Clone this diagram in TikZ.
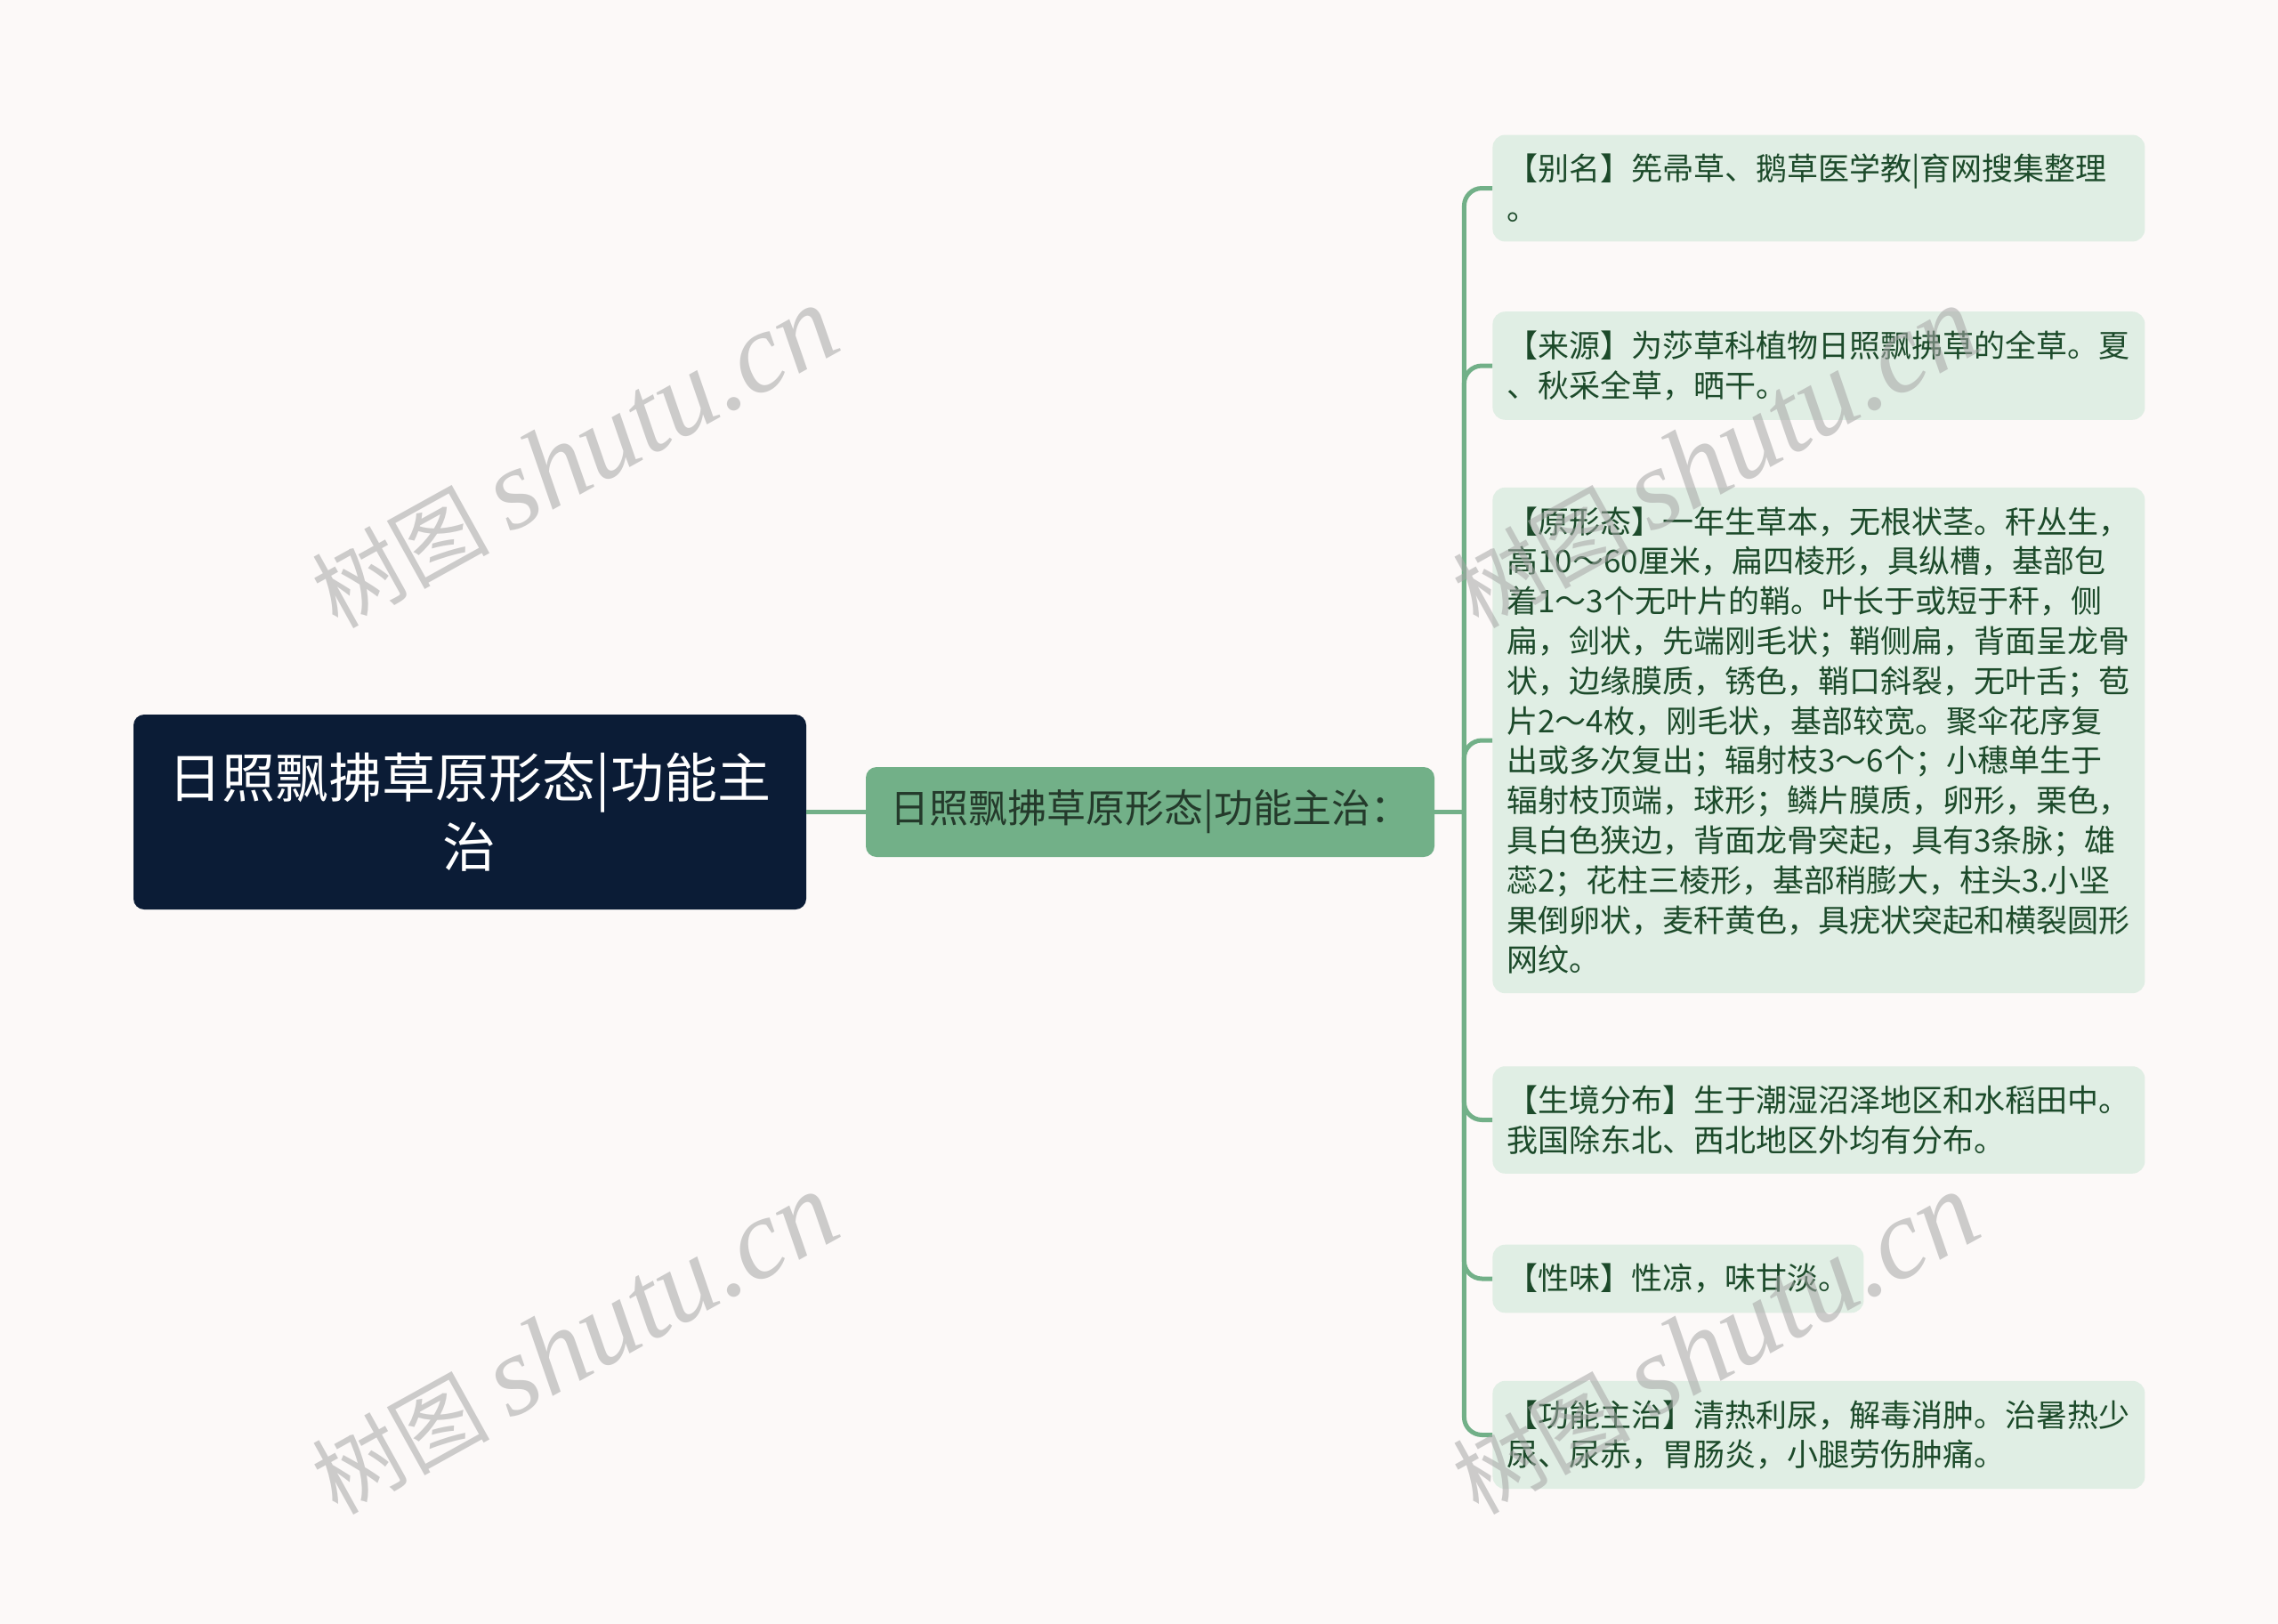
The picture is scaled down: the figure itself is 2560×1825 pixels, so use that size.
\documentclass[tikz,border=0pt]{standalone}
\usepackage{fontspec}
\setmainfont{Noto Sans CJK SC}
\newfontfamily\wmlatin{Liberation Serif}
\usetikzlibrary{positioning}
\definecolor{bgpaper}{HTML}{FCF9F8}
\definecolor{navy}{HTML}{0B1C36}
\definecolor{sage}{HTML}{72B088}
\definecolor{leafbg}{HTML}{E0EEE4}
\definecolor{leafink}{HTML}{1C4A2A}
\definecolor{midink}{HTML}{243A2B}
\begin{document}
\begin{tikzpicture}[x=0.5pt,y=-0.5pt,
      rootbox/.style={fill=navy, text=white, rounded corners=6pt,
        minimum width=378pt, minimum height=109.5pt, align=center,
        font=\fontsize{30}{39}\selectfont},
      midbox/.style={fill=sage, text=midink, rounded corners=6pt,
        minimum width=319.5pt, minimum height=50.5pt,
        font=\fontsize{22}{26}\selectfont},
      leafbox/.style={fill=leafbg, text=leafink, rounded corners=7pt,
        anchor=west, inner xsep=8pt, inner ysep=10.8pt, align=left,
        font=\fontsize{17.5}{22.4}\selectfont},
      wide/.style={text width=350.5pt},
      branch/.style={draw=sage, line width=2.5pt, rounded corners=10pt},
      wmark/.style={text=black!35, text opacity=0.55, rotate=29,
        font=\fontsize{50}{50}\selectfont}]
      \fill[bgpaper] (0,0) rectangle (2560,1825);
      \useasboundingbox (0,0) rectangle (2560,1825);
      % main topic and its sub-topic
      \node[rootbox] (root) at (528,912.5) {日照飘拂草原形态|功能主\\治};
      \node[midbox] (mid) at (1292.5,912.5) {日照飘拂草原形态|功能主治：};
      % leaves
      \node[leafbox, wide] (alias) at (1677,211.5) {【别名】筅帚草、鹅草医学教|育网搜集整理\\
        。};
      \node[leafbox, wide] (source) at (1677,411) {【来源】为莎草科植物日照飘拂草的全草。夏\\
        、秋采全草，晒干。};
      \node[leafbox, wide] (shape) at (1677,832) {【原形态】一年生草本，无根状茎。秆丛生，\\
        高10～60厘米，扁四棱形，具纵槽，基部包\\
        着1～3个无叶片的鞘。叶长于或短于秆，侧\\
        扁，剑状，先端刚毛状；鞘侧扁，背面呈龙骨\\
        状，边缘膜质，锈色，鞘口斜裂，无叶舌；苞\\
        片2～4枚，刚毛状，基部较宽。聚伞花序复\\
        出或多次复出；辐射枝3～6个；小穗单生于\\
        辐射枝顶端，球形；鳞片膜质，卵形，栗色，\\
        具白色狭边，背面龙骨突起，具有3条脉；雄\\
        蕊2；花柱三棱形，基部稍膨大，柱头3.小坚\\
        果倒卵状，麦秆黄色，具疣状突起和横裂圆形\\
        网纹。};
      \node[leafbox, wide] (habitat) at (1677,1258.5) {【生境分布】生于潮湿沼泽地区和水稻田中。\\
        我国除东北、西北地区外均有分布。};
      \node[leafbox] (taste) at (1677,1437) {【性味】性凉，味甘淡。};
      \node[leafbox, wide] (usage) at (1677,1612.5) {【功能主治】清热利尿，解毒消肿。治暑热少\\
        尿、尿赤，胃肠炎，小腿劳伤肿痛。};
      % connectors
      \coordinate (hub) at ([xshift=16.5pt]mid.east);
      \draw[branch] (root) -- (mid);
      \draw[branch] (mid) -- (hub);
      \foreach \leaf in {alias,source,shape,habitat,taste,usage}
        \draw[branch] (hub) |- (\leaf.west);
      % watermark
      \foreach \wx/\wy [count=\i] in {645/514, 1927/514, 645/1510, 1927/1510}
        \node[wmark] (wm\i) at (\wx,\wy)
          {树图 {\wmlatin\itshape\fontsize{64}{64}\selectfont shutu.cn}};
     \end{tikzpicture}
\end{document}
